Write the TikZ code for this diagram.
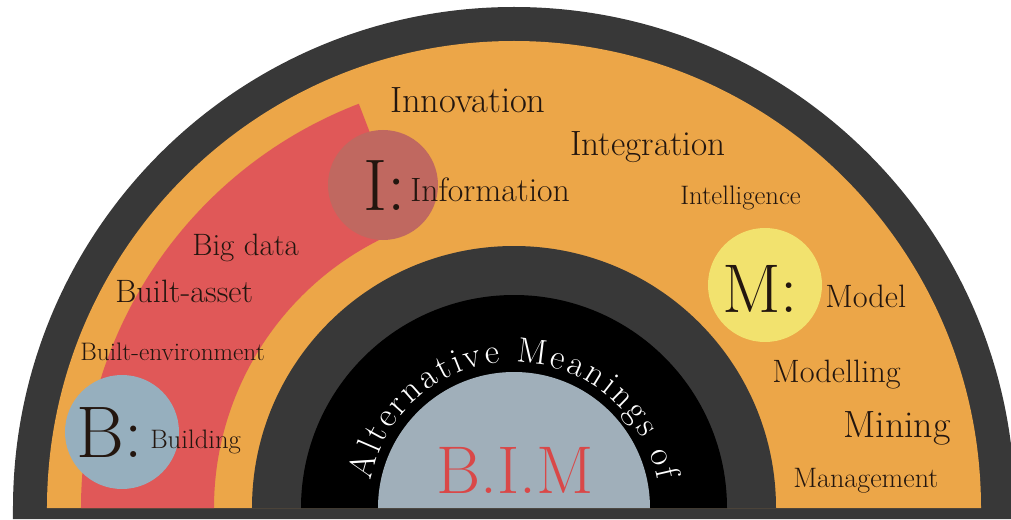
\documentclass[tikz,border=0pt]{standalone}
\usepackage{tikz}
\usetikzlibrary{positioning, decorations.text}

\definecolor{ringdark}{RGB}{56,56,56}
\definecolor{bandorange}{RGB}{236,166,72}
\definecolor{bandred}{RGB}{224,88,88}
\definecolor{icircle}{RGB}{192,104,96}
\definecolor{bcircle}{RGB}{150,175,190}
\definecolor{mcircle}{RGB}{242,226,110}
\definecolor{coregrey}{RGB}{160,175,186}
\definecolor{bimred}{RGB}{217,72,72}
\definecolor{inkbrown}{RGB}{35,22,15}

\newcommand{\fsz}[1]{\fontsize{#1}{#1}\selectfont}

\begin{document}
\begin{tikzpicture}[x=0.25mm, y=0.25mm,
    word/.style={anchor=base west, text=inkbrown, inner sep=0pt},
    disc/.style={circle, inner sep=0pt, minimum size=28.5mm}]
  \useasboundingbox (-514,-11) rectangle (497,508);
  % rings
  \fill[ringdark] (-501,-11) -- (-501,0) arc[start angle=180, end angle=0, radius=501] -- (501,-11) -- cycle;
  \fill[bandorange] (-467,0) arc[start angle=180, end angle=0, radius=467] -- cycle;
  \fill[bandred] (180:433) arc[start angle=180, end angle=111, radius=433]
     -- (111:300) arc[start angle=111, end angle=180, radius=300] -- cycle;
  \fill[ringdark] (-262,0) arc[start angle=180, end angle=0, radius=262] -- cycle;
  \fill[black] (-213,0) arc[start angle=180, end angle=0, radius=213] -- cycle;
  \fill[coregrey] (-136,0) arc[start angle=180, end angle=0, radius=136] -- cycle;

  % letter discs
  \node[disc, fill=icircle, minimum size=27.5mm] (idisc) at (-131,323) {};
  \node[disc, fill=bcircle] (bdisc) at (-392,76) {};
  \node[disc, fill=mcircle] (mdisc) at (251,223) {};

  % I
  \node[word, font=\fsz{52}] (iletter) at (-151,298) {I:};
  \node[word, font=\fsz{24}] (information) at (-104,306) {Information};
  \node[word, font=\fsz{26}] (innovation) at (-124,395) {Innovation};
  \node[word, font=\fsz{25}] (integration) at (56,353) {Integration};
  \node[word, font=\fsz{19}] (intelligence) at (166,303) {Intelligence};
  % B
  \node[word, font=\fsz{22}] (bigdata) at (-322,253) {Big data};
  \node[word, font=\fsz{23}] (builtasset) at (-399,206) {Built-asset};
  \node[word, font=\fsz{18}] (builtenv) at (-434,148) {Built-environment};
  \node[word, font=\fsz{52}] (bletter) at (-438,51) {B:};
  \node[word, font=\fsz{19}] (building) at (-364,60) {Building};
  % M
  \node[word, font=\fsz{49}] (mletter) at (208,196) {M:};
  \node[word, font=\fsz{23}] (model) at (311,201) {Model};
  \node[word, font=\fsz{23}] (modelling) at (258,126) {Modelling};
  \node[word, font=\fsz{27}] (mining) at (329,71) {Mining};
  \node[word, font=\fsz{20}] (management) at (279,21) {Management};

  % centre
  \path[decorate, decoration={text along path, text color=white,
      text={|\fsz{25}|Alternative Meanings of}, text align=fit to path}]
    (169:146) arc[start angle=169, end angle=11, radius=146];
  \node[anchor=base, text=bimred, font=\fsz{48}, inner sep=0pt] (bim) at (1,15) {B.I.M};
\end{tikzpicture}
\end{document}
